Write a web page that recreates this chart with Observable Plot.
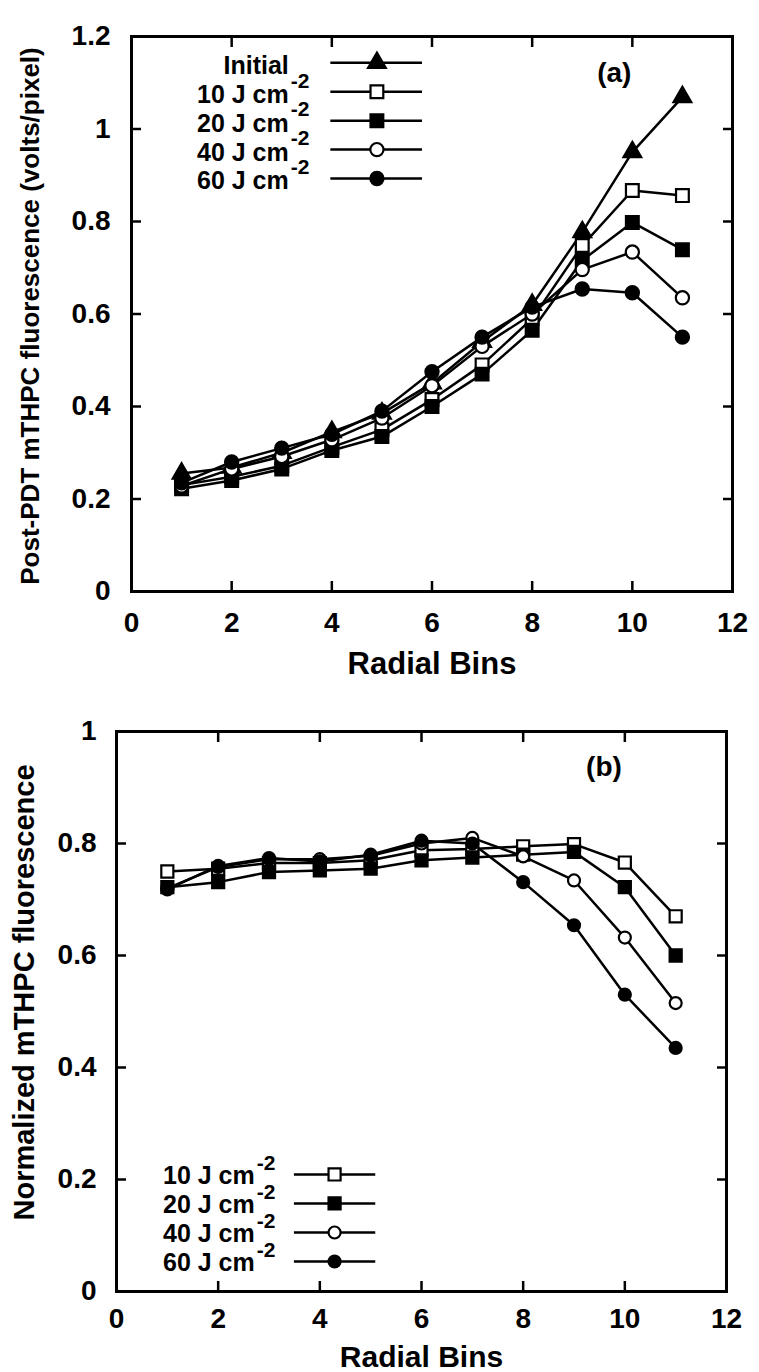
<!DOCTYPE html>
<html>
<head>
<meta charset="utf-8">
<script src="https://cdn.jsdelivr.net/npm/d3@7"></script>
<script src="https://cdn.jsdelivr.net/npm/@observablehq/plot@0.6"></script>
<style>
  html, body { margin: 0; padding: 0; background: #fff; }
  #chart { width: 759px; }
  #chart svg { display: block; }
</style>
</head>
<body>
<div id="chart"></div>
<script>
// ---------- data ----------
const bins = [1, 2, 3, 4, 5, 6, 7, 8, 9, 10, 11];

const seriesNamesA = ["Initial", "10 J cm", "20 J cm", "40 J cm", "60 J cm"];
const superscriptsA = ["", "-2", "-2", "-2", "-2"];
const seriesNamesB = ["10 J cm", "20 J cm", "40 J cm", "60 J cm"];
const superscriptsB = ["-2", "-2", "-2", "-2"];

// panel (a): Post-PDT mTHPC fluorescence (volts/pixel)
const initialA = [0.255, 0.268, 0.300, 0.345, 0.385, 0.450, 0.540, 0.620, 0.777, 0.950, 1.069];
const j10A     = [0.230, 0.248, 0.272, 0.312, 0.350, 0.415, 0.490, 0.590, 0.748, 0.867, 0.856];
const j20A     = [0.222, 0.240, 0.265, 0.305, 0.335, 0.400, 0.470, 0.565, 0.716, 0.798, 0.739];
const j40A     = [0.228, 0.265, 0.292, 0.328, 0.375, 0.445, 0.530, 0.600, 0.696, 0.734, 0.635];
const j60A     = [0.235, 0.280, 0.310, 0.340, 0.390, 0.475, 0.550, 0.615, 0.654, 0.646, 0.550];

// panel (b): Normalized mTHPC fluorescence
const j10B = [0.750, 0.755, 0.765, 0.765, 0.770, 0.788, 0.790, 0.795, 0.799, 0.766, 0.670];
const j20B = [0.722, 0.731, 0.749, 0.752, 0.755, 0.770, 0.775, 0.780, 0.785, 0.722, 0.600];
const j40B = [0.720, 0.758, 0.772, 0.772, 0.778, 0.800, 0.810, 0.777, 0.734, 0.632, 0.515];
const j60B = [0.718, 0.760, 0.774, 0.768, 0.780, 0.805, 0.800, 0.731, 0.654, 0.530, 0.435];

// axes
const xTicks = [0, 2, 4, 6, 8, 10, 12];
const xTickLabels = ["0", "2", "4", "6", "8", "10", "12"];
const yTicksA = [0, 0.2, 0.4, 0.6, 0.8, 1, 1.2];
const yTickLabelsA = ["0", "0.2", "0.4", "0.6", "0.8", "1", "1.2"];
const yTicksB = [0, 0.2, 0.4, 0.6, 0.8, 1];
const yTickLabelsB = ["0", "0.2", "0.4", "0.6", "0.8", "1"];

const xTitle = "Radial Bins";
const yTitleA = "Post-PDT mTHPC fluorescence (volts/pixel)";
const yTitleB = "Normalized mTHPC fluorescence";
const tagA = "(a)";
const tagB = "(b)";

// ---------- styling (per series marker) ----------
const markerStyle = {
  "Initial": {symbol: "triangle", fill: "black"},
  "10 J cm": {symbol: "square", fill: "white"},
  "20 J cm": {symbol: "square", fill: "black"},
  "40 J cm": {symbol: "circle", fill: "white"},
  "60 J cm": {symbol: "circle", fill: "black"}
};

function rowsOf(names, arrays) {
  return names.map((name, si) => bins.map((b, i) => ({series: name, bin: b, value: arrays[si][i]})));
}

const FONT = "'Liberation Sans', Arial, Helvetica, sans-serif";

function panel(cfg) {
  const seriesRows = rowsOf(cfg.names, cfg.values);
  const legendRows = cfg.names.map((name, i) => ({
    name, sup: cfg.sups[i], y: cfg.legend.top - i * cfg.legend.step
  }));
  const marks = [];

  // inward ticks on all four sides + labels
  const tk = {strokeWidth: 2.5, tickSize: -10, label: null};
  marks.push(Plot.axisX({...tk, anchor: "bottom", ticks: xTicks,
    tickFormat: d => xTickLabels[xTicks.indexOf(d)], tickPadding: cfg.xPad}));
  marks.push(Plot.axisX({...tk, anchor: "top", ticks: xTicks, tickFormat: () => ""}));
  marks.push(Plot.axisY({...tk, anchor: "left", ticks: cfg.yTicks,
    tickFormat: d => cfg.yTickLabels[cfg.yTicks.indexOf(d)], tickPadding: cfg.yPad}));
  marks.push(Plot.axisY({...tk, anchor: "right", ticks: cfg.yTicks, tickFormat: () => ""}));
  marks.push(Plot.frame({stroke: "black", strokeWidth: 3}));

  // series lines, then markers
  seriesRows.forEach(rows => {
    marks.push(Plot.line(rows, {x: "bin", y: "value", stroke: "black", strokeWidth: 2.5}));
  });
  seriesRows.forEach(rows => {
    const st = markerStyle[rows[0].series];
    marks.push(Plot.dot(rows, {x: "bin", y: "value", symbol: st.symbol, fill: st.fill,
      stroke: "black", strokeWidth: 2.2, r: st.symbol === "square" ? cfg.rSquare : cfg.rRound}));
  });

  // legend
  const L = cfg.legend;
  marks.push(Plot.ruleY(legendRows, {y: "y", x1: L.lineX1, x2: L.lineX2, stroke: "black", strokeWidth: 2.5}));
  legendRows.forEach(r => {
    const st = markerStyle[r.name];
    marks.push(Plot.dot([r], {x: L.markX, y: "y", symbol: st.symbol, fill: st.fill, stroke: "black",
      strokeWidth: 2.2, r: st.symbol === "square" ? cfg.rSquare : cfg.rRound}));
  });
  marks.push(Plot.text(legendRows, {x: L.textX, y: "y", text: "name", textAnchor: "end",
    fontSize: L.font, dy: L.textDy}));
  marks.push(Plot.text(legendRows, {x: L.textX, y: "y", text: "sup", textAnchor: "start",
    fontSize: L.supFont, dx: 2, dy: L.supDy}));

  // panel tag
  marks.push(Plot.text([cfg.tag], {x: cfg.tagX, y: cfg.tagY, text: d => d, fontSize: cfg.tagFont}));

  // axis titles
  marks.push(Plot.text([xTitle], {frameAnchor: "bottom", dy: cfg.xTitleDy, text: d => d,
    fontSize: cfg.xTitleFont, lineAnchor: "middle", textAnchor: "middle"}));
  marks.push(Plot.text([cfg.yTitle], {frameAnchor: "left", dx: cfg.yTitleDx, dy: cfg.yTitleDy, rotate: -90,
    text: d => d, fontSize: cfg.yTitleFont, lineAnchor: "middle", textAnchor: "middle"}));

  return Plot.plot({
    width: 759,
    height: cfg.height,
    marginTop: cfg.mt, marginBottom: cfg.mb, marginLeft: cfg.ml, marginRight: cfg.mr,
    x: {domain: [0, 12]},
    y: {domain: cfg.yDomain},
    style: {fontFamily: FONT, fontWeight: "bold", fontSize: cfg.tickFont + "px", color: "black", background: "white", overflow: "visible"},
    marks
  });
}

const plotA = panel({
  names: seriesNamesA, sups: superscriptsA,
  values: [initialA, j10A, j20A, j40A, j60A],
  yTicks: yTicksA, yTickLabels: yTickLabelsA, yDomain: [0, 1.2],
  height: 690, mt: 36, mb: 99, ml: 131, mr: 27,
  xPad: 31, yPad: 31, tickFont: 28,
  rSquare: 7.2, rRound: 6.6,
  legend: {top: 1.143, step: 0.0625, lineX1: 3.98, lineX2: 5.81, markX: 4.9, textX: 3.14,
           font: 25, supFont: 21, textDy: 3, supDy: -11},
  tag: tagA, tagX: 9.64, tagY: 1.122, tagFont: 28,
  yTitle: yTitleA, xTitleDy: 73, xTitleFont: 31, yTitleDx: -101, yTitleDy: 2, yTitleFont: 26
});

const plotB = panel({
  names: seriesNamesB, sups: superscriptsB,
  values: [j10B, j20B, j40B, j60B],
  yTicks: yTicksB, yTickLabels: yTickLabelsB, yDomain: [0, 1],
  height: 682, mt: 41, mb: 81, ml: 116, mr: 33,
  xPad: 27, yPad: 30, tickFont: 28,
  rSquare: 6.8, rRound: 6.0,
  legend: {top: 0.209, step: 0.0518, lineX1: 3.50, lineX2: 5.10, markX: 4.29, textX: 2.72,
           font: 25, supFont: 21, textDy: 2, supDy: -11},
  tag: tagB, tagX: 9.59, tagY: 0.936, tagFont: 28,
  yTitle: yTitleB, xTitleDy: 66, xTitleFont: 30, yTitleDx: -92, yTitleDy: -19, yTitleFont: 29
});

document.getElementById("chart").append(plotA, plotB);
</script>
</body>
</html>
